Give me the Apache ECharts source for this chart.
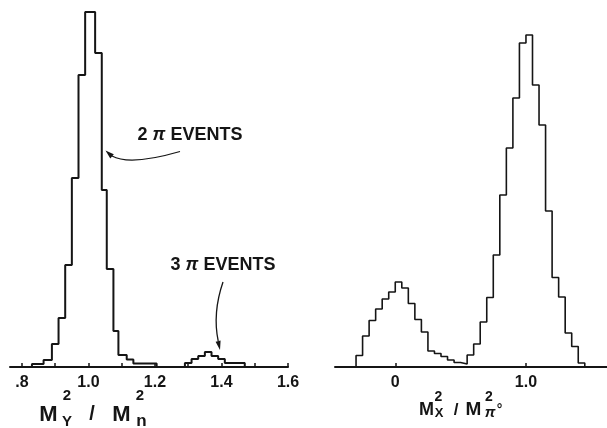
<!DOCTYPE html>
<html><head><meta charset="utf-8">
<script src="https://cdn.jsdelivr.net/npm/echarts@6/dist/echarts.min.js"></script>
<style>html,body{margin:0;padding:0;background:#fff}#c{width:607px;height:428px}</style>
</head><body><div id="c"></div>
<script>
// Left panel: M_Y^2 / M_n^2 — 2π peak (bin edges + counts) and 3π bump
const leftEdges2pi = [0.83,0.865,0.89,0.91,0.93,0.95,0.97,0.99,1.02,1.04,1.055,1.075,1.09,1.115,1.135,1.205];
const leftCounts2pi = [3,7,23,49,102,189,292,355,314,177,98,36,12,7.5,3.5];
const leftEdges3pi = [1.29,1.31,1.33,1.35,1.37,1.39,1.41,1.43,1.45,1.47];
const leftCounts3pi = [4,8,11,15,11,8,4,4,4];
const leftTicks = [0.8,0.9,1.0,1.1,1.2,1.3,1.4,1.5,1.6];
const leftLabels = [0.8,1.0,1.2,1.4,1.6];

// Right panel: M_X^2 / M_π0^2, bins of 0.05 from -0.30
const rightEdges = [-0.3,-0.25,-0.2,-0.15,-0.1,-0.05,0,0.05,0.1,0.15,0.2,0.25,0.3,0.35,0.4,0.45,0.5,0.55,0.6,0.65,0.7,0.75,0.8,0.85,0.9,0.95,1.0,1.05,1.1,1.15,1.2,1.25,1.3,1.35,1.4,1.45];
const rightCounts = [11.5,31,46.5,58,68,75,85,79,63.5,47.5,35,16,13.5,10.5,7,4.5,3,12,23,45,69.5,112,172,219,269,324,332,282,242,156,89.5,70,34,20.5,4];
const rightLabels = [0,1.0];

function outline(edges, counts){
  const pts=[[edges[0],0]];
  for(let i=0;i<counts.length;i++){pts.push([edges[i],counts[i]]);pts.push([edges[i+1],counts[i]]);}
  pts.push([edges[edges.length-1],0]);
  return pts;
}
const INK='#151515';
const FONT='Liberation Sans';
const chart = echarts.init(document.getElementById('c'), null, {renderer:'canvas'});
function xAxisCommon(gi,min,max,ticks,labels,fmt){
  return {type:'value',gridIndex:gi,min:min,max:max,splitLine:{show:false},
    axisLine:{show:true,onZero:false,lineStyle:{color:INK,width:2}},
    axisTick:{show:true,inside:true,length:4,customValues:ticks,lineStyle:{color:INK,width:1.5}},
    axisLabel:{show:true,customValues:labels,margin:8,color:INK,fontFamily:FONT,fontSize:16,fontWeight:'bold',formatter:fmt}};
}
const txt=(x,y,t,size,extra)=>({type:'text',x:x,y:y,style:Object.assign({text:t,fill:INK,font:'bold '+size+'px "'+FONT+'"',align:'center',verticalAlign:'middle'},extra||{})});
const rich={a:{fontFamily:FONT,fontSize:18,fill:INK,fontWeight:'bold'},p:{fontFamily:FONT,fontSize:18,fontStyle:'italic',fontWeight:'bold',fill:INK}};
chart.setOption({
  animation:false,
  grid:[{left:10,width:278,top:0,height:367},{left:335,width:272,top:0,height:367}],
  xAxis:[
    xAxisCommon(0,0.764,1.6,leftTicks,leftLabels,v=>Math.abs(v-0.8)<1e-9?'.8':v.toFixed(1)),
    xAxisCommon(1,-0.461,1.62,rightLabels,rightLabels,v=>v===0?'0':v.toFixed(1))
  ],
  yAxis:[{type:'value',gridIndex:0,min:0,max:367,show:false},{type:'value',gridIndex:1,min:0,max:367,show:false}],
  series:[
    {type:'line',xAxisIndex:0,yAxisIndex:0,data:outline(leftEdges2pi,leftCounts2pi),showSymbol:false,lineStyle:{color:INK,width:2},silent:true},
    {type:'line',xAxisIndex:0,yAxisIndex:0,data:outline(leftEdges3pi,leftCounts3pi),showSymbol:false,lineStyle:{color:INK,width:2},silent:true},
    {type:'line',xAxisIndex:1,yAxisIndex:1,data:outline(rightEdges,rightCounts),showSymbol:false,lineStyle:{color:INK,width:1.6},silent:true}
  ],
  graphic:[
    {type:'text',x:190,y:135,style:{text:'{a|2 }{p|π}{a| EVENTS}',align:'center',verticalAlign:'middle',rich:rich}},
    {type:'text',x:223,y:265,style:{text:'{a|3 }{p|π}{a| EVENTS}',align:'center',verticalAlign:'middle',rich:rich}},
    {type:'bezierCurve',shape:{x1:180,y1:151.5,x2:112,y2:156,cpx1:130,cpy1:166},style:{stroke:INK,lineWidth:1.3,fill:null}},
    {type:'polygon',shape:{points:[[105.5,150.5],[113.8,154.2],[110.3,158.4]]},style:{fill:INK}},
    {type:'bezierCurve',shape:{x1:223,y1:282,x2:218.2,y2:341,cpx1:212.4,cpy1:313},style:{stroke:INK,lineWidth:1.3,fill:null}},
    {type:'polygon',shape:{points:[[220,350],[220.6,340.6],[215.6,341.7]]},style:{fill:INK}},
    // left axis title  M_Y^2 / M_n^2
    txt(48.5,415,'M',22),
    txt(67,396,'2',15),
    txt(67,422,'Y',15),
    txt(92,414,'/',20),
    txt(121.5,415,'M',22),
    txt(140,396,'2',15),
    txt(141.5,421,'n',17),
    // right axis title  M_X^2 / M_π°^2
    txt(426.5,410,'M',18),
    txt(438.5,397,'2',14),
    txt(439,413,'X',13),
    txt(456,410,'/',17),
    txt(473.5,410,'M',19),
    txt(489,397,'2',14),
    txt(490,413,'π',15,{font:'italic bold 15px "'+FONT+'"'}),
    txt(499.5,410,'°',14)
  ]
});
</script></body></html>
